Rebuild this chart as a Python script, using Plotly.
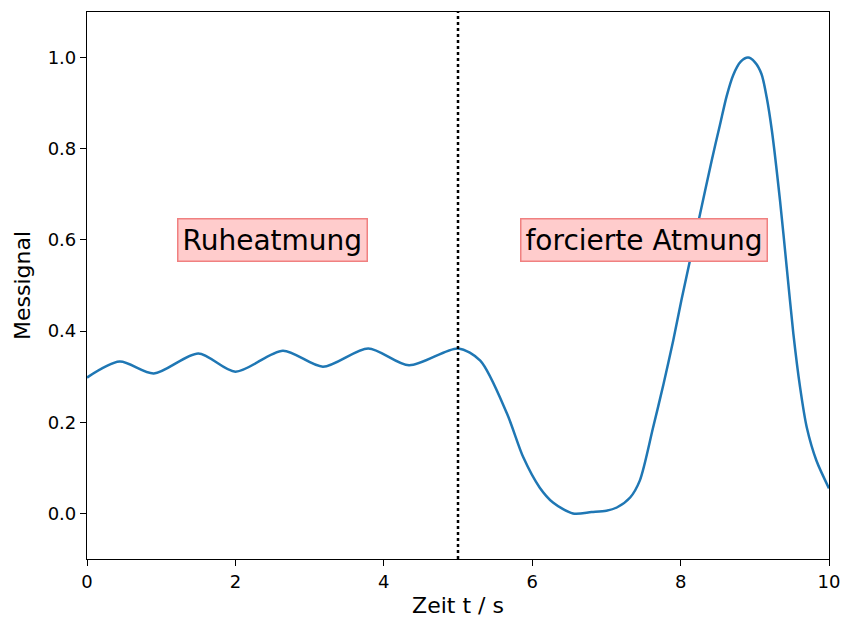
import plotly.graph_objects as go

zeit = [0, 0.44, 0.9, 1.5, 2.0, 2.64, 3.18, 3.79, 4.34, 5.0, 5.3, 5.66, 5.88, 6.1, 6.28,
        6.55, 6.8, 7.0, 7.14, 7.32, 7.45, 7.63, 7.77, 7.9, 8.01, 8.26, 8.42, 8.53, 8.62,
        8.71, 8.81, 8.91, 9.0, 9.09, 9.16, 9.23, 9.34, 9.43, 9.52, 9.61, 9.7, 9.83, 10.0]
signal = [0.298, 0.333, 0.307, 0.351, 0.311, 0.357, 0.322, 0.362, 0.325, 0.362, 0.335,
          0.219, 0.123, 0.057, 0.024, 0.0, 0.003, 0.006, 0.013, 0.035, 0.072, 0.189, 0.284,
          0.379, 0.467, 0.655, 0.775, 0.852, 0.915, 0.962, 0.991, 1.0, 0.99, 0.964, 0.913,
          0.84, 0.686, 0.54, 0.394, 0.277, 0.189, 0.116, 0.055]
grenze = 5.0
labels = ["Ruheatmung", "forcierte Atmung"]
label_x = [2.5, 7.5]
label_y = [0.6, 0.6]

FONT = "DejaVu Sans"

fig = go.Figure()
fig.add_trace(go.Scatter(x=zeit, y=signal, mode="lines",
                         line=dict(color="#1f77b4", width=2.5, shape="spline", smoothing=0.8),
                         showlegend=False, hoverinfo="skip"))
fig.add_trace(go.Scatter(x=[grenze, grenze], y=[-0.1, 1.1], mode="lines",
                         line=dict(color="black", width=2.5, dash="dot"),
                         showlegend=False, hoverinfo="skip"))

for t, x, y in zip(labels, label_x, label_y):
    fig.add_annotation(x=x, y=y, text=t, showarrow=False,
                       font=dict(family=FONT, size=28, color="black"),
                       bgcolor="#ffcccc", bordercolor="#f08080", borderwidth=1.5,
                       borderpad=4)

axis_common = dict(showline=True, linecolor="black", linewidth=1.2, mirror=True,
                   ticks="outside", ticklen=6, tickwidth=1.2, tickcolor="black",
                   showgrid=False, zeroline=False, automargin=False,
                   tickfont=dict(family=FONT, size=18, color="black"))

fig.update_xaxes(range=[0, 10], tickvals=[0, 2, 4, 6, 8, 10],
                 title=dict(text="Zeit t / s", font=dict(family=FONT, size=22, color="black"), standoff=6),
                 **axis_common)
fig.update_yaxes(range=[-0.1, 1.1], tickvals=[0, 0.2, 0.4, 0.6, 0.8, 1.0], tickformat=".1f",
                 title=dict(text="Messignal", font=dict(family=FONT, size=22, color="black"), standoff=10),
                 **axis_common)

fig.update_layout(width=843, height=621, margin=dict(l=87, r=14, t=12, b=62),
                  plot_bgcolor="white", paper_bgcolor="white",
                  font=dict(family=FONT))
fig.write_html("out.html")
